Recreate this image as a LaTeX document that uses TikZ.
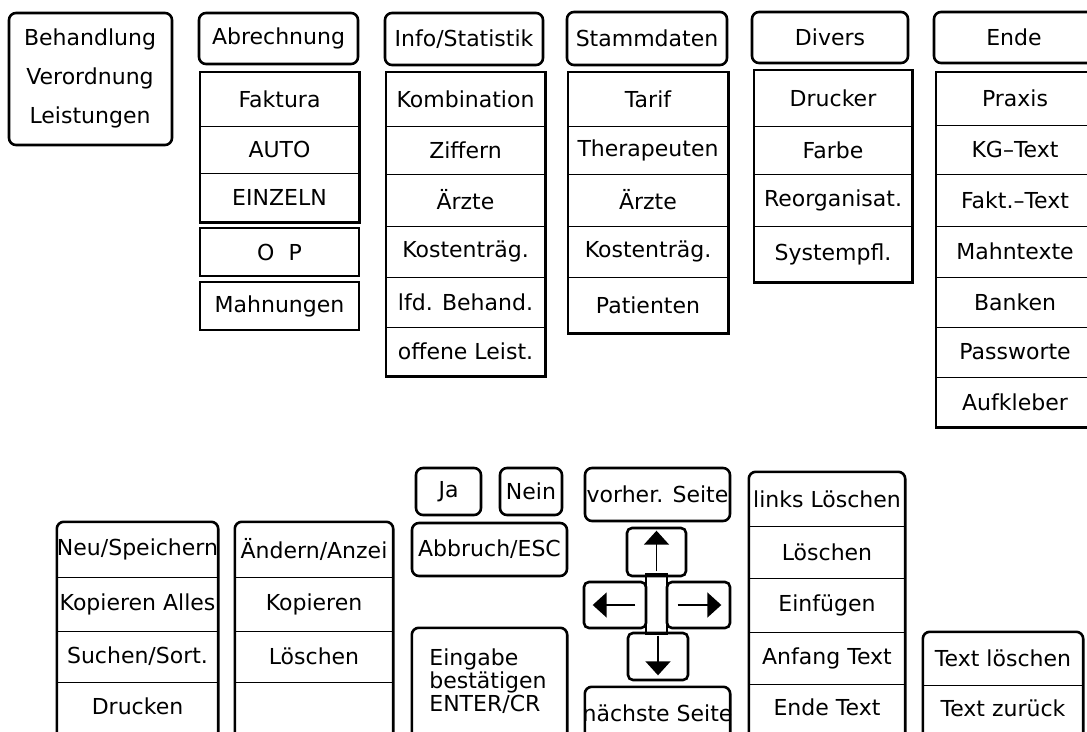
\documentclass[tikz,border=0pt]{standalone}
\usepackage{fontspec}
\setmainfont{DejaVu Sans}
\usetikzlibrary{fit,arrows.meta}
\newcommand\mycell[6]{\node[cellbox, fit={(#2,#3) (#4,#5)}] (#1) {};\node (#1t) at (#1.center) {#6};}
\newcommand\hdrbox[6]{\node[hdr, fit={(#2,#3) (#4,#5)}] (#1) {};\node (#1t) at (#1.center) {#6};}
\newcommand\sqbox[6]{\node[sqb, fit={(#2,#3) (#4,#5)}] (#1) {};\node (#1t) at (#1.center) {#6};}
\newcommand\divline[1]{\draw[divl] (#1.south west) -- (#1.south east);}
\begin{document}
\begin{tikzpicture}[x=1pt,y=-1pt,
  every node/.style={font=\fontsize{22}{26}\selectfont, inner sep=0pt},
  cellbox/.style={inner sep=0pt},
  hdr/.style={draw, line width=2.6pt, rounded corners=7pt, inner sep=0pt},
  keyb/.style={draw, line width=2.6pt, rounded corners=5pt, inner sep=0pt},
  sqb/.style={draw, line width=2.6pt, inner sep=0pt},
  outer/.style={line width=2.6pt},
  roundouter/.style={line width=2.6pt, rounded corners=7pt},
  divl/.style={line width=1.3pt},
  arr/.style={line width=1.7pt, -{Triangle[width=25pt,length=14pt]}}]
\useasboundingbox (0,0) rectangle (1087,731);
\clip (0,0) rectangle (1087,731);
% ---------- top row ----------
\node[hdr, fit={(9,13) (172,145)}] (beh) {};
\node[align=center, font=\fontsize{22}{39}\selectfont] (beht) at (90,78) {Behandlung\\Verordnung\\Leistungen};
% Abrechnung
\hdrbox{abr}{199}{13}{358}{64}{Abrechnung}
\mycell{abr1}{200}{72}{359}{126}{Faktura}
\mycell{abr2}{200}{126}{359}{173}{AUTO}
\mycell{abr3}{200}{173}{359}{222}{EINZELN}
\draw[outer] (abr1.north west) rectangle (abr3.south east);
\divline{abr1}\divline{abr2}
\sqbox{op}{200}{228}{359}{276}{O\ \ P}
\sqbox{mahn}{200}{282}{359}{330}{Mahnungen}
% Info/Statistik
\hdrbox{inf}{385}{13}{543}{65}{Info/Statistik}
\mycell{inf1}{386}{72}{545}{126}{Kombination}
\mycell{inf2}{386}{126}{545}{174}{Ziffern}
\mycell{inf3}{386}{174}{545}{226}{Ärzte}
\mycell{inf4}{386}{226}{545}{277}{Kostenträg.}
\mycell{inf5}{386}{277}{545}{327}{lfd. Behand.}
\mycell{inf6}{386}{327}{545}{376}{offene Leist.}
\draw[outer] (inf1.north west) rectangle (inf6.south east);
\divline{inf1}\divline{inf2}\divline{inf3}\divline{inf4}\divline{inf5}
% Stammdaten
\hdrbox{sta}{567}{12}{727}{65}{Stammdaten}
\mycell{sta1}{568}{72}{728}{126}{Tarif}
\mycell{sta2}{568}{126}{728}{174}{Therapeuten}
\mycell{sta3}{568}{174}{728}{226}{Ärzte}
\mycell{sta4}{568}{226}{728}{277}{Kostenträg.}
\mycell{sta5}{568}{277}{728}{333}{Patienten}
\draw[outer] (sta1.north west) rectangle (sta5.south east);
\divline{sta1}\divline{sta2}\divline{sta3}\divline{sta4}
% Divers
\hdrbox{div}{752}{12}{908}{63}{Divers}
\mycell{div1}{754}{70}{912}{126}{Drucker}
\mycell{div2}{754}{126}{912}{174}{Farbe}
\mycell{div3}{754}{174}{912}{226}{Reorganisat.}
\mycell{div4}{754}{226}{912}{282}{Systempfl.}
\draw[outer] (div1.north west) rectangle (div4.south east);
\divline{div1}\divline{div2}\divline{div3}
% Ende
\hdrbox{end}{934}{12}{1094}{63}{Ende}
\mycell{end1}{936}{72}{1094}{125}{Praxis}
\mycell{end2}{936}{125}{1094}{174}{KG--Text}
\mycell{end3}{936}{174}{1094}{226}{Fakt.--Text}
\mycell{end4}{936}{226}{1094}{277}{Mahntexte}
\mycell{end5}{936}{277}{1094}{327}{Banken}
\mycell{end6}{936}{327}{1094}{377}{Passworte}
\mycell{end7}{936}{377}{1094}{427}{Aufkleber}
\draw[outer] (end1.north west) rectangle (end7.south east);
\divline{end1}\divline{end2}\divline{end3}\divline{end4}\divline{end5}\divline{end6}
% ---------- bottom row ----------
% column 1
\mycell{neu1}{57}{522}{218}{577}{Neu/Speichern}
\mycell{neu2}{57}{577}{218}{631}{Kopieren Alles}
\mycell{neu3}{57}{631}{218}{682}{Suchen/Sort.}
\mycell{neu4}{57}{682}{218}{731}{Drucken}
\draw[roundouter] ([yshift=-20pt]neu4.south west) -- (neu1.north west) -- (neu1.north east) -- ([yshift=-20pt]neu4.south east);
\divline{neu1}\divline{neu2}\divline{neu3}
% column 2
\mycell{and1}{235}{522}{393}{577}{Ändern/Anzei}
\mycell{and2}{235}{577}{393}{631}{Kopieren}
\mycell{and3}{235}{631}{393}{682}{Löschen}
\mycell{and4}{235}{682}{393}{731}{}
\draw[roundouter] ([yshift=-20pt]and4.south west) -- (and1.north west) -- (and1.north east) -- ([yshift=-20pt]and4.south east);
\divline{and1}\divline{and2}\divline{and3}
% Ja / Nein / Abbruch / Eingabe
\hdrbox{ja}{416}{468}{481}{515}{Ja}
\hdrbox{nein}{500}{468}{562}{515}{Nein}
\hdrbox{abb}{412}{523}{567}{576}{Abbruch/ESC}
\node[cellbox, fit={(412,628) (567,731)}] (eing) {};
\draw[roundouter] ([yshift=-20pt]eing.south west) -- (eing.north west) -- (eing.north east) -- ([yshift=-20pt]eing.south east);
\node[align=left, font=\fontsize{22}{23}\selectfont] (eingt) at (488,681) {Eingabe\\bestätigen\\ENTER/CR};
% cursor keys
\hdrbox{vor}{585}{468}{730}{521}{vorher. Seite}
\coordinate (mida) at (646,574);
\coordinate (midb) at (667,634);
\draw[line width=1.8pt] (mida) rectangle (midb);
\node[keyb, fit={(627,528) (686,576)}] (up) {};
\node[keyb, fit={(584,582) (646,628)}] (lt) {};
\node[keyb, fit={(667,582) (730,628)}] (rt) {};
\node[keyb, fit={(628,633) (688,680)}] (dn) {};
\draw[arr] ([yshift=6pt]up.south) -- ([yshift=-4pt]up.north);
\draw[arr] ([xshift=-12pt]lt.east) -- ([xshift=10pt]lt.west);
\draw[arr] ([xshift=12pt]rt.west) -- ([xshift=-10pt]rt.east);
\draw[arr] ([yshift=-4pt]dn.north) -- ([yshift=6pt]dn.south);
\mycell{nae}{585}{687}{730}{740}{nächste Seite}
\draw[roundouter] ([yshift=-20pt]nae.south west) -- (nae.north west) -- (nae.north east) -- ([yshift=-20pt]nae.south east);
% edit column
\mycell{ed1}{749}{472}{905}{526}{links Löschen}
\mycell{ed2}{749}{526}{905}{578}{Löschen}
\mycell{ed3}{749}{578}{905}{632}{Einfügen}
\mycell{ed4}{749}{632}{905}{684}{Anfang Text}
\mycell{ed5}{749}{684}{905}{731}{Ende Text}
\draw[roundouter] ([yshift=-20pt]ed5.south west) -- (ed1.north west) -- (ed1.north east) -- ([yshift=-20pt]ed5.south east);
\divline{ed1}\divline{ed2}\divline{ed3}\divline{ed4}
% text column
\mycell{tx1}{923}{632}{1083}{685}{Text löschen}
\mycell{tx2}{923}{685}{1083}{731}{Text zurück}
\draw[roundouter] ([yshift=-20pt]tx2.south west) -- (tx1.north west) -- (tx1.north east) -- ([yshift=-20pt]tx2.south east);
\divline{tx1}
\end{tikzpicture}
\end{document}
